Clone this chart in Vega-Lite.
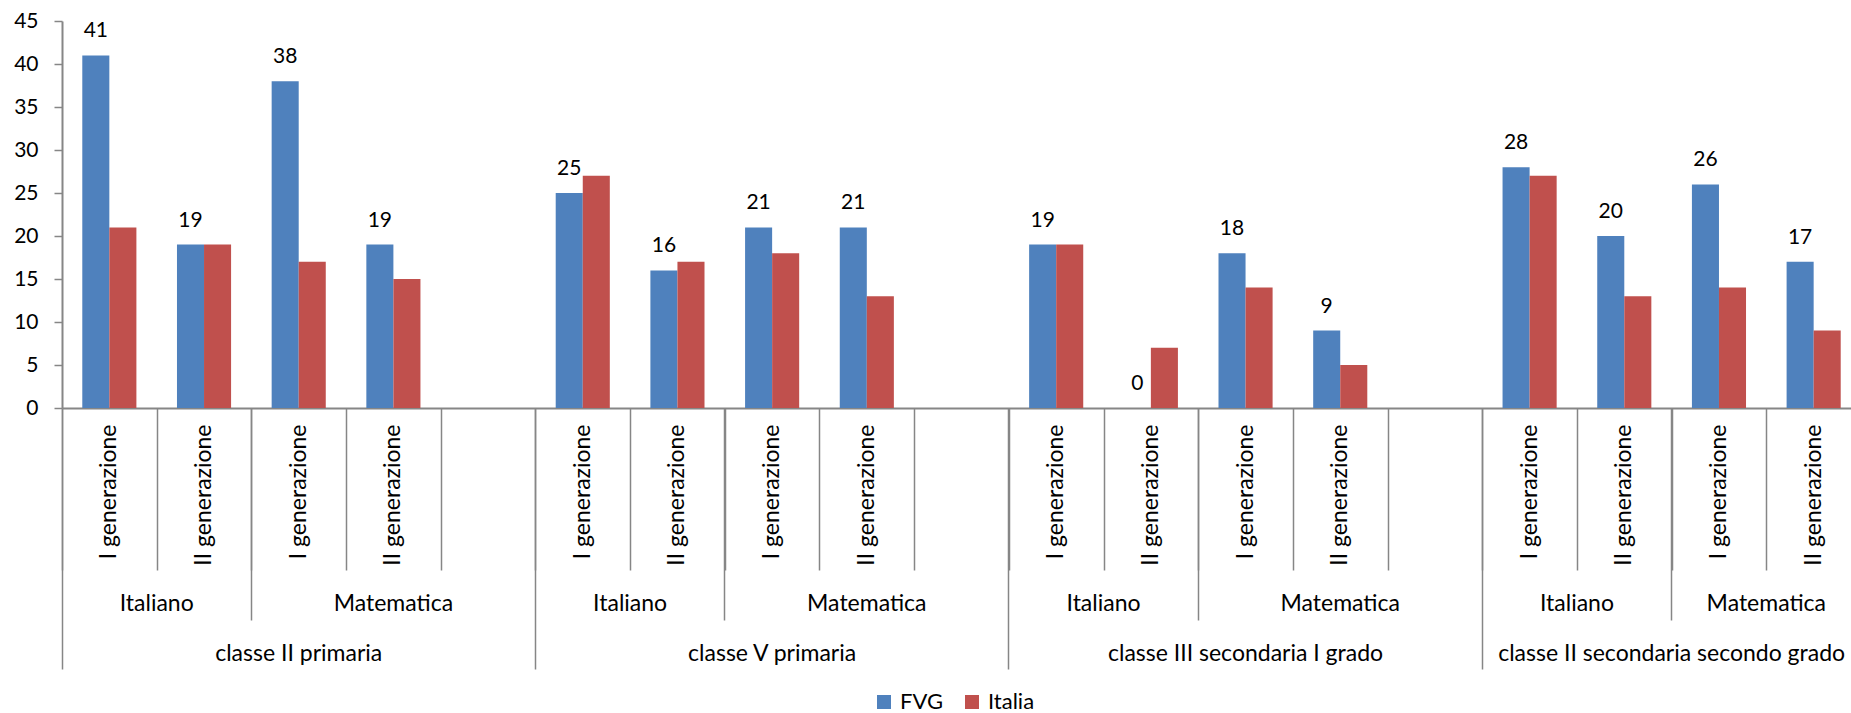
{
  "$schema": "https://vega.github.io/schema/vega-lite/v6.json",
  "width": 1799,
  "height": 387,
  "autosize": {"type": "none"},
  "padding": {"left": 62, "top": 21, "right": 0, "bottom": 305},
  "background": "white",
  "config": {
    "view": {"stroke": null},
    "font": "Lato",
    "axis": {
      "domainColor": "#868686",
      "tickColor": "#868686",
      "domainWidth": 2,
      "tickWidth": 1.5,
      "labelFont": "Lato",
      "labelColor": "#000000",
      "labelFontSize": 23,
      "labelOverlap": false,
      "labelLimit": 0,
      "labelBound": false,
      "labelFlush": false,
      "grid": false,
      "title": null
    }
  },
  "data": {
    "values": [
      {"categoria": "classe II primaria|Italiano|I generazione", "serie": "FVG", "valore": 41},
      {"categoria": "classe II primaria|Italiano|I generazione", "serie": "Italia", "valore": 21},
      {"categoria": "classe II primaria|Italiano|II generazione", "serie": "FVG", "valore": 19},
      {"categoria": "classe II primaria|Italiano|II generazione", "serie": "Italia", "valore": 19},
      {"categoria": "classe II primaria|Matematica|I generazione", "serie": "FVG", "valore": 38},
      {"categoria": "classe II primaria|Matematica|I generazione", "serie": "Italia", "valore": 17},
      {"categoria": "classe II primaria|Matematica|II generazione", "serie": "FVG", "valore": 19},
      {"categoria": "classe II primaria|Matematica|II generazione", "serie": "Italia", "valore": 15},
      {"categoria": "classe V primaria|Italiano|I generazione", "serie": "FVG", "valore": 25},
      {"categoria": "classe V primaria|Italiano|I generazione", "serie": "Italia", "valore": 27},
      {"categoria": "classe V primaria|Italiano|II generazione", "serie": "FVG", "valore": 16},
      {"categoria": "classe V primaria|Italiano|II generazione", "serie": "Italia", "valore": 17},
      {"categoria": "classe V primaria|Matematica|I generazione", "serie": "FVG", "valore": 21},
      {"categoria": "classe V primaria|Matematica|I generazione", "serie": "Italia", "valore": 18},
      {"categoria": "classe V primaria|Matematica|II generazione", "serie": "FVG", "valore": 21},
      {"categoria": "classe V primaria|Matematica|II generazione", "serie": "Italia", "valore": 13},
      {"categoria": "classe III secondaria I grado|Italiano|I generazione", "serie": "FVG", "valore": 19},
      {"categoria": "classe III secondaria I grado|Italiano|I generazione", "serie": "Italia", "valore": 19},
      {"categoria": "classe III secondaria I grado|Italiano|II generazione", "serie": "FVG", "valore": 0},
      {"categoria": "classe III secondaria I grado|Italiano|II generazione", "serie": "Italia", "valore": 7},
      {"categoria": "classe III secondaria I grado|Matematica|I generazione", "serie": "FVG", "valore": 18},
      {"categoria": "classe III secondaria I grado|Matematica|I generazione", "serie": "Italia", "valore": 14},
      {"categoria": "classe III secondaria I grado|Matematica|II generazione", "serie": "FVG", "valore": 9},
      {"categoria": "classe III secondaria I grado|Matematica|II generazione", "serie": "Italia", "valore": 5},
      {"categoria": "classe II secondaria secondo grado|Italiano|I generazione", "serie": "FVG", "valore": 28},
      {"categoria": "classe II secondaria secondo grado|Italiano|I generazione", "serie": "Italia", "valore": 27},
      {"categoria": "classe II secondaria secondo grado|Italiano|II generazione", "serie": "FVG", "valore": 20},
      {"categoria": "classe II secondaria secondo grado|Italiano|II generazione", "serie": "Italia", "valore": 13},
      {"categoria": "classe II secondaria secondo grado|Matematica|I generazione", "serie": "FVG", "valore": 26},
      {"categoria": "classe II secondaria secondo grado|Matematica|I generazione", "serie": "Italia", "valore": 14},
      {"categoria": "classe II secondaria secondo grado|Matematica|II generazione", "serie": "FVG", "valore": 17},
      {"categoria": "classe II secondaria secondo grado|Matematica|II generazione", "serie": "Italia", "valore": 9}
    ]
  },
  "resolve": {"axis": {"x": "independent"}},
  "layer": [
    {
      "mark": {"type": "bar"},
      "encoding": {
        "x": {
          "field": "categoria",
          "type": "nominal",
          "scale": {
            "type": "band",
            "paddingInner": 0,
            "paddingOuter": 0,
            "domain": [
              "classe II primaria|Italiano|I generazione",
              "classe II primaria|Italiano|II generazione",
              "classe II primaria|Matematica|I generazione",
              "classe II primaria|Matematica|II generazione",
              "classe II primaria|Matematica|",
              "classe V primaria|Italiano|I generazione",
              "classe V primaria|Italiano|II generazione",
              "classe V primaria|Matematica|I generazione",
              "classe V primaria|Matematica|II generazione",
              "classe V primaria|Matematica|",
              "classe III secondaria I grado|Italiano|I generazione",
              "classe III secondaria I grado|Italiano|II generazione",
              "classe III secondaria I grado|Matematica|I generazione",
              "classe III secondaria I grado|Matematica|II generazione",
              "classe III secondaria I grado|Matematica|",
              "classe II secondaria secondo grado|Italiano|I generazione",
              "classe II secondaria secondo grado|Italiano|II generazione",
              "classe II secondaria secondo grado|Matematica|I generazione",
              "classe II secondaria secondo grado|Matematica|II generazione"
            ]
          },
          "axis": {
            "orient": "bottom",
            "labels": false,
            "ticks": true,
            "tickBand": "extent",
            "tickSize": 162,
            "domain": true
          }
        },
        "xOffset": {
          "field": "serie",
          "type": "nominal",
          "scale": {"domain": ["FVG", "Italia"], "paddingInner": 0, "paddingOuter": 0.75}
        },
        "y": {
          "field": "valore",
          "type": "quantitative",
          "scale": {"domain": [0, 45], "nice": false},
          "axis": {
            "values": [0, 5, 10, 15, 20, 25, 30, 35, 40, 45],
            "tickSize": 8,
            "labelPadding": 16,
            "labelFontSize": 21,
            "title": null
          }
        },
        "color": {
          "field": "serie",
          "type": "nominal",
          "scale": {"domain": ["FVG", "Italia"], "range": ["#4F81BD", "#C0504D"]},
          "legend": {
            "title": null,
            "orient": "none",
            "direction": "horizontal",
            "legendX": 811,
            "legendY": 670,
            "symbolType": "square",
            "symbolSize": 196,
            "symbolStrokeWidth": 0,
            "labelFont": "Lato",
            "labelFontSize": 22,
            "labelColor": "#000000",
            "labelOffset": 5,
            "columnPadding": 18,
            "padding": 0
          }
        }
      }
    },
    {
      "transform": [{"filter": "datum.serie === 'FVG'"}],
      "mark": {"type": "text", "baseline": "alphabetic", "dy": -18, "font": "Lato", "fontSize": 21, "color": "#000000"},
      "encoding": {
        "x": {
          "field": "categoria",
          "type": "nominal",
          "axis": {
            "orient": "bottom",
            "ticks": false,
            "domain": false,
            "labelAngle": 270,
            "labelAlign": "right",
            "labelBaseline": "middle",
            "labelPadding": 16,
            "labelExpr": "split(datum.value, '|')[2]"
          }
        },
        "xOffset": {"field": "serie", "type": "nominal"},
        "y": {
          "field": "valore",
          "type": "quantitative",
          "axis": {
            "values": [0, 5, 10, 15, 20, 25, 30, 35, 40, 45],
            "tickSize": 8,
            "labelPadding": 16,
            "labelFontSize": 21,
            "title": null
          }
        },
        "text": {"field": "valore", "type": "quantitative"}
      }
    },
    {
      "mark": {"type": "bar", "opacity": 0},
      "encoding": {
        "x": {
          "field": "categoria",
          "type": "nominal",
          "axis": {
            "orient": "bottom",
            "labels": false,
            "domain": false,
            "bandPosition": 0,
            "tickSize": 212,
            "values": [
              "classe II primaria|Matematica|I generazione",
              "classe V primaria|Matematica|I generazione",
              "classe III secondaria I grado|Matematica|I generazione",
              "classe II secondaria secondo grado|Matematica|I generazione"
            ]
          }
        }
      }
    },
    {
      "mark": {"type": "bar", "opacity": 0},
      "encoding": {
        "x": {
          "field": "categoria",
          "type": "nominal",
          "axis": {
            "orient": "bottom",
            "labels": false,
            "domain": false,
            "bandPosition": 0,
            "tickSize": 261,
            "values": [
              "classe II primaria|Italiano|I generazione",
              "classe V primaria|Italiano|I generazione",
              "classe III secondaria I grado|Italiano|I generazione",
              "classe II secondaria secondo grado|Italiano|I generazione"
            ]
          }
        }
      }
    },
    {
      "mark": {"type": "bar", "opacity": 0},
      "encoding": {
        "x": {
          "field": "categoria",
          "type": "nominal",
          "axis": {
            "orient": "bottom",
            "ticks": false,
            "domain": false,
            "labelAngle": 0,
            "labelAlign": "center",
            "labelBaseline": "middle",
            "labelPadding": 195,
            "labelOffset": -47.33,
            "labelExpr": "split(datum.value, '|')[1]",
            "values": [
              "classe II primaria|Italiano|II generazione",
              "classe V primaria|Italiano|II generazione",
              "classe III secondaria I grado|Italiano|II generazione",
              "classe II secondaria secondo grado|Italiano|II generazione",
              "classe II secondaria secondo grado|Matematica|II generazione"
            ]
          }
        }
      }
    },
    {
      "mark": {"type": "bar", "opacity": 0},
      "encoding": {
        "x": {
          "field": "categoria",
          "type": "nominal",
          "axis": {
            "orient": "bottom",
            "ticks": false,
            "domain": false,
            "labelAngle": 0,
            "labelAlign": "center",
            "labelBaseline": "middle",
            "labelPadding": 195,
            "labelExpr": "split(datum.value, '|')[1]",
            "values": [
              "classe II primaria|Matematica|II generazione",
              "classe V primaria|Matematica|II generazione",
              "classe III secondaria I grado|Matematica|II generazione"
            ]
          }
        }
      }
    },
    {
      "mark": {"type": "bar", "opacity": 0},
      "encoding": {
        "x": {
          "field": "categoria",
          "type": "nominal",
          "axis": {
            "orient": "bottom",
            "ticks": false,
            "domain": false,
            "labelAngle": 0,
            "labelAlign": "center",
            "labelBaseline": "middle",
            "labelPadding": 245,
            "labelExpr": "split(datum.value, '|')[0]",
            "values": [
              "classe II primaria|Matematica|I generazione",
              "classe V primaria|Matematica|I generazione",
              "classe III secondaria I grado|Matematica|I generazione"
            ]
          }
        }
      }
    },
    {
      "mark": {"type": "bar", "opacity": 0},
      "encoding": {
        "x": {
          "field": "categoria",
          "type": "nominal",
          "axis": {
            "orient": "bottom",
            "ticks": false,
            "domain": false,
            "labelAngle": 0,
            "labelAlign": "center",
            "labelBaseline": "middle",
            "labelPadding": 245,
            "labelOffset": -47.33,
            "labelExpr": "split(datum.value, '|')[0]",
            "values": [
              "classe II secondaria secondo grado|Matematica|I generazione"
            ]
          }
        }
      }
    }
  ]
}
